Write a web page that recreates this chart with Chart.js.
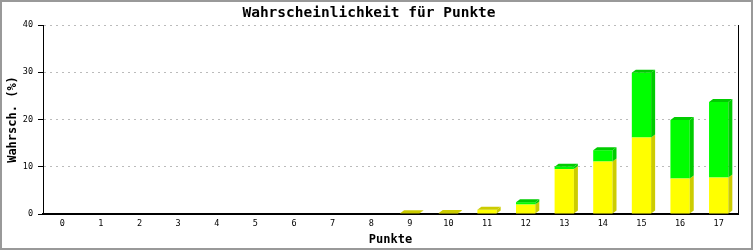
<!DOCTYPE html>
<html lang="de">
<head>
  <meta charset="UTF-8" />
  <title>Wahrscheinlichkeit für Punkte</title>
  <script src="https://cdn.jsdelivr.net/npm/chart.js"></script>
  <style>
    html, body { margin: 0; padding: 0; background: #fff; }
    canvas { display: block; }
  </style>
</head>
<body>
  <canvas id="chart" width="753" height="250"></canvas>
  <script>
    // Daten
    const punkte = ['0','1','2','3','4','5','6','7','8','9','10','11','12','13','14','15','16','17'];
    const gelb = [0, 0, 0, 0, 0, 0, 0, 0, 0, 0.15, 0.2, 0.9, 2.0, 9.5, 11.1, 16.2, 7.5, 7.7];
    const gruen = [0, 0, 0, 0, 0, 0, 0, 0, 0, 0, 0, 0, 0.5, 0.5, 2.4, 13.7, 12.4, 16.0];
    const yTicks = [0, 10, 20, 30, 40];

    const mono = "'DejaVu Sans Mono', 'Liberation Mono', monospace";

    // 3D-Seiten und Deckel der Balken
    const depth3d = {
      id: 'depth3d',
      afterDatasetsDraw(chart) {
        const ctx = chart.ctx;
        const dx = 4, dy = 3;
        const sides = ['#cccc00', '#00cc00'];
        const metas = chart.data.datasets.map((d, i) => chart.getDatasetMeta(i));
        ctx.save();
        punkte.forEach((p, j) => {
          let topIdx = -1;
          metas.forEach((m, i) => {
            const v = chart.data.datasets[i].data[j];
            if (v > 0) topIdx = i;
          });
          metas.forEach((m, i) => {
            const v = chart.data.datasets[i].data[j];
            if (!(v > 0)) return;
            const el = m.data[j];
            const half = el.width / 2;
            const l = el.x - half, r = el.x + half;
            const top = Math.min(el.y, el.base), bot = Math.max(el.y, el.base);
            ctx.fillStyle = sides[i];
            ctx.beginPath();
            ctx.moveTo(r, top);
            ctx.lineTo(r + dx, top - dy);
            ctx.lineTo(r + dx, bot - dy);
            ctx.lineTo(r, bot);
            ctx.closePath();
            ctx.fill();
            if (i === topIdx) {
              ctx.beginPath();
              ctx.moveTo(l, top);
              ctx.lineTo(l + dx, top - dy);
              ctx.lineTo(r + dx, top - dy);
              ctx.lineTo(r, top);
              ctx.closePath();
              ctx.fill();
            }
          });
        });
        ctx.restore();
      },
      afterDraw(chart) {
        const ctx = chart.ctx;
        const a = chart.chartArea;
        ctx.save();
        // rechte Achsenlinie
        ctx.strokeStyle = '#000';
        ctx.lineWidth = 1;
        ctx.beginPath();
        ctx.moveTo(a.right + 0.5, a.top);
        ctx.lineTo(a.right + 0.5, a.bottom);
        ctx.stroke();
        // grauer Rahmen
        ctx.strokeStyle = '#999';
        ctx.lineWidth = 2;
        ctx.strokeRect(1, 1, chart.width - 2, chart.height - 2);
        ctx.restore();
      }
    };

    new Chart(document.getElementById('chart'), {
      type: 'bar',
      data: {
        labels: punkte,
        datasets: [
          { label: 'gelb', data: gelb, backgroundColor: '#ffff00', borderWidth: 0,
            barPercentage: 0.5, categoryPercentage: 1 },
          { label: 'grün', data: gruen, backgroundColor: '#00ff00', borderWidth: 0,
            barPercentage: 0.5, categoryPercentage: 1 }
        ]
      },
      options: {
        responsive: false,
        animation: false,
        devicePixelRatio: 1,
        layout: { padding: { left: 0, right: 15, top: 0, bottom: 0 } },
        plugins: {
          legend: { display: false },
          tooltip: { enabled: false },
          title: {
            display: true,
            text: 'Wahrscheinlichkeit für Punkte',
            color: '#000',
            font: { family: mono, size: 14.5, weight: 'bold' },
            padding: { top: 5, bottom: 2.6 }
          }
        },
        scales: {
          x: {
            stacked: true,
            afterFit: s => { s.height = 36; },
            grid: { display: false, drawTicks: false },
            border: { display: true, color: '#000', width: 2 },
            ticks: { color: '#000', padding: 5, font: { family: mono, size: 8.5 } },
            title: {
              display: true, text: 'Punkte', color: '#000',
              font: { family: mono, size: 12, weight: 'bold' },
              padding: 3
            }
          },
          y: {
            stacked: true,
            min: 0, max: 40,
            afterFit: s => { s.width = 43; },
            afterBuildTicks: s => { s.ticks = yTicks.map(v => ({ value: v })); },
            grid: {
              color: c => c.tick && c.tick.value === 0 ? 'rgba(0,0,0,0)' : '#bbb',
              tickColor: '#000',
              tickLength: 5,
              tickBorderDash: [],
              lineWidth: 1
            },
            border: { display: true, color: '#000', width: 1, dash: [2, 4] },
            ticks: { color: '#000', padding: 5, font: { family: mono, size: 8.5 } },
            title: {
              display: true, text: 'Wahrsch. (%)', color: '#000',
              font: { family: mono, size: 12, weight: 'bold' },
              padding: 6
            }
          }
        }
      },
      plugins: [depth3d]
    });
  </script>
</body>
</html>
